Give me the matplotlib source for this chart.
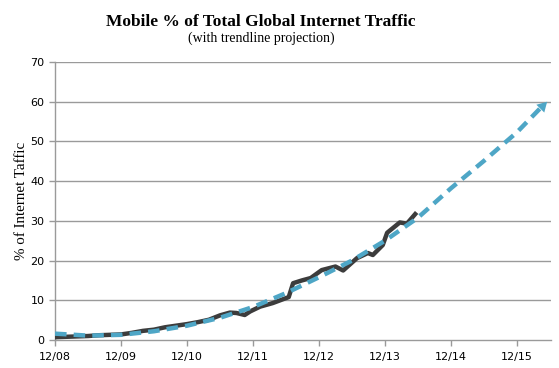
import matplotlib
matplotlib.use("Agg")
import matplotlib.pyplot as plt

# months since 12/08
actual_month = [0, 2, 4, 6, 8, 10, 12, 14, 16, 18, 20, 22, 24, 26, 28, 30, 31.8, 33, 34.5,
                35.5, 37.3, 39.6, 42.5, 43.3, 44.9, 46.5, 48.5, 51, 52.4, 54.9, 56.9,
                57.8, 59.6, 60.4, 62.7, 64.0, 65.5]
actual_pct = [0.7, 0.8, 0.9, 1.0, 1.2, 1.3, 1.4, 1.8, 2.3, 2.6, 3.2, 3.6, 4.0, 4.5, 5.1, 6.2, 6.9, 6.8, 6.3,
              7.2, 8.4, 9.3, 10.8, 14.3, 15.0, 15.6, 17.6, 18.5, 17.5, 20.6, 21.9,
              21.4, 23.9, 27.0, 29.6, 29.3, 31.7]

trend_month = [0, 6, 12, 18, 24, 30, 36, 42, 48, 54, 60, 66, 72, 78, 84, 89.5]
trend_pct = [1.6, 1.1, 1.3, 2.2, 3.6, 5.6, 8.3, 11.8, 15.8, 20.0, 25.0, 30.8, 38.2, 45.1, 52.3, 60.0]

tick_months = [0, 12, 24, 36, 48, 60, 72, 84]
tick_labels = ["12/08", "12/09", "12/10", "12/11", "12/12", "12/13", "12/14", "12/15"]
y_ticks = [0, 10, 20, 30, 40, 50, 60, 70]

BLUE = "#4ea6c6"
DARK = "#3c3c3c"
GRID = "#9a9a9a"

fig = plt.figure(figsize=(5.59, 3.68), dpi=100)
ax = fig.add_axes([0.0984, 0.0761, 0.8873, 0.7554])

ax.plot(actual_month, actual_pct, color=DARK, lw=3.2, solid_joinstyle="round", zorder=3)
ax.plot(trend_month[:-1] + [trend_month[-1] - 0.8], trend_pct[:-1] + [trend_pct[-1] - 1.0],
        color=BLUE, lw=3.2, dashes=(2.6, 1.6), zorder=4)
ax.annotate("", xy=(trend_month[-1], trend_pct[-1]), xytext=(trend_month[-2], trend_pct[-2]),
            arrowprops=dict(arrowstyle="-|>,head_length=0.7,head_width=0.4", color=BLUE, lw=0,
                            shrinkA=0, shrinkB=0), zorder=5)

ax.set_xlim(0, 90.2)
ax.set_ylim(0, 70)
ax.set_xticks(tick_months)
ax.set_xticklabels(tick_labels)
ax.set_yticks(y_ticks)
for y in y_ticks[1:]:
    ax.axhline(y, color=GRID, lw=1, zorder=1)

for side in ["top", "right"]:
    ax.spines[side].set_visible(False)
for side in ["left", "bottom"]:
    ax.spines[side].set_color(GRID)
    ax.spines[side].set_linewidth(1)

ax.tick_params(axis="both", colors=GRID, length=4, width=1, labelcolor="black",
               labelsize=8)
ax.tick_params(axis="x", pad=5)

ax.set_ylabel("% of Internet Taffic", family="Liberation Serif", fontsize=10.8, labelpad=2)

fig.text(0.467, 0.93, "Mobile % of Total Global Internet Traffic", ha="center",
         family="Liberation Serif", fontweight="bold", fontsize=12.5)
fig.text(0.467, 0.885, "(with trendline projection)", ha="center",
         family="Liberation Serif", fontsize=10)

fig.savefig("out.png", dpi=100)
